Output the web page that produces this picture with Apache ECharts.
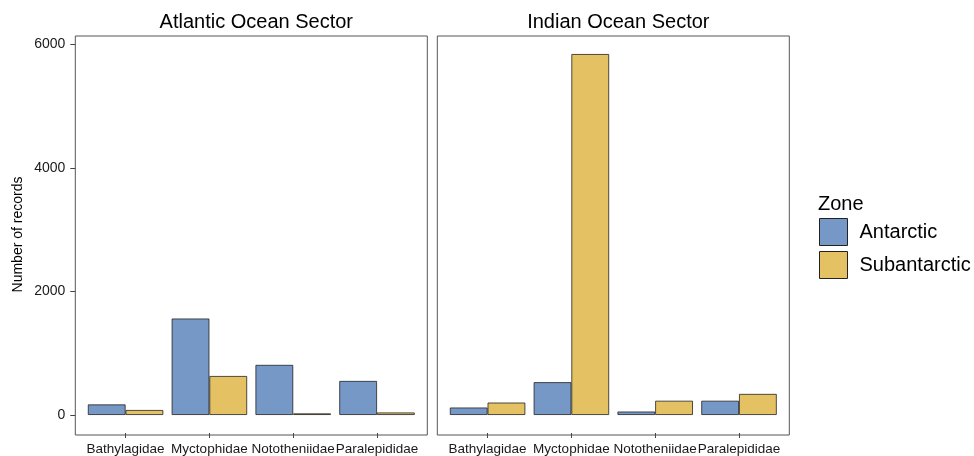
<!DOCTYPE html>
<html>
<head>
<meta charset="utf-8">
<script src="https://cdn.jsdelivr.net/npm/echarts@6/dist/echarts.min.js"></script>
<style>html,body{margin:0;padding:0;background:#fff;}#c{width:974px;height:456px;}</style>
</head>
<body>
<div id="c"></div>
<script>
var families = ['Bathylagidae', 'Myctophidae', 'Nototheniidae', 'Paralepididae'];
var sectors = ['Atlantic Ocean Sector', 'Indian Ocean Sector'];
var zones = ['Antarctic', 'Subantarctic'];
var atlanticAntarctic = [170, 1560, 810, 550];
var atlanticSubantarctic = [80, 630, 25, 40];
var indianAntarctic = [120, 530, 55, 230];
var indianSubantarctic = [200, 5840, 230, 340];
var yTicks = [0, 2000, 4000, 6000];

var FONT = 'Liberation Sans, Arial, Helvetica, sans-serif';
var colors = ['#7598C7', '#E4C162'];
var chart = echarts.init(document.getElementById('c'), null, {renderer: 'canvas'});

var panelTop = 36, panelH = 399, panelW = 352;
var panelLeft = [75.3, 437.3];
var pad = panelW / 4.2 * 0.1;
var yMax = 5840 * 1.05, yMin = -5840 * 0.05;

var grids = [], xAxes = [], yAxes = [], series = [];
// border grids
for (var p = 0; p < 2; p++) {
  grids.push({left: panelLeft[p], top: panelTop, width: panelW, height: panelH, show: true,
    borderColor: '#555', borderWidth: 1, backgroundColor: '#fff'});
  xAxes.push({gridIndex: p, type: 'value', show: false});
  yAxes.push({gridIndex: p, type: 'value', show: false});
}
var dataSets = [[atlanticAntarctic, atlanticSubantarctic], [indianAntarctic, indianSubantarctic]];
for (var p = 0; p < 2; p++) {
  var gi = p + 2;
  grids.push({left: panelLeft[p] + pad, top: panelTop, width: panelW - 2 * pad, height: panelH, show: false});
  xAxes.push({gridIndex: gi, type: 'category', data: families, position: 'bottom',
    axisLine: {show: false, onZero: false},
    axisTick: {show: true, alignWithLabel: true, length: 5, lineStyle: {color: '#444'}},
    axisLabel: {fontFamily: FONT, fontSize: 13.5, color: '#1a1a1a', margin: 9, interval: 0}
  });
  yAxes.push({gridIndex: gi, type: 'value', min: yMin, max: yMax, offset: pad,
    name: p === 0 ? 'Number of records' : '', nameLocation: 'middle', nameRotate: 90, nameGap: 50,
    nameTextStyle: {fontFamily: FONT, fontSize: 14, color: '#000'},
    axisLine: {show: false, onZero: false},
    splitLine: {show: false},
    axisTick: {show: p === 0, length: 5, lineStyle: {color: '#444'}, customValues: yTicks},
    axisLabel: {show: p === 0, fontFamily: FONT, fontSize: 14, color: '#1a1a1a', margin: 10,
      customValues: yTicks, formatter: function (v) { return String(v); }}
  });
  for (var z = 0; z < 2; z++) {
    series.push({name: zones[z], type: 'bar', xAxisIndex: gi, yAxisIndex: gi,
      data: dataSets[p][z], barWidth: '45%', barGap: '0%', barCategoryGap: '10%',
      itemStyle: {color: colors[z], borderColor: '#222', borderWidth: 0.8},
      emphasis: {disabled: true}, animation: false});
  }
}

chart.setOption({
  animation: false,
  textStyle: {fontFamily: FONT},
  title: [
    {text: sectors[0], left: panelLeft[0] + panelW / 2, top: 7, textAlign: 'center',
      textStyle: {fontFamily: FONT, fontSize: 20, fontWeight: 'normal', color: '#000'}},
    {text: sectors[1], left: panelLeft[1] + panelW / 2, top: 7, textAlign: 'center',
      textStyle: {fontFamily: FONT, fontSize: 20, fontWeight: 'normal', color: '#000'}},
    {text: 'Zone', left: 813, top: 189,
      textStyle: {fontFamily: FONT, fontSize: 20, fontWeight: 'normal', color: '#000'}}
  ],
  legend: {data: zones, orient: 'vertical', left: 819, top: 218, icon: 'rect', padding: 0,
    itemWidth: 28, itemHeight: 27, itemGap: 5,
    itemStyle: {borderColor: '#222', borderWidth: 1},
    textStyle: {fontFamily: FONT, fontSize: 20, color: '#000', padding: [0, 0, 0, 7]}},
  grid: grids,
  xAxis: xAxes,
  yAxis: yAxes,
  series: series
});
</script>
</body>
</html>
